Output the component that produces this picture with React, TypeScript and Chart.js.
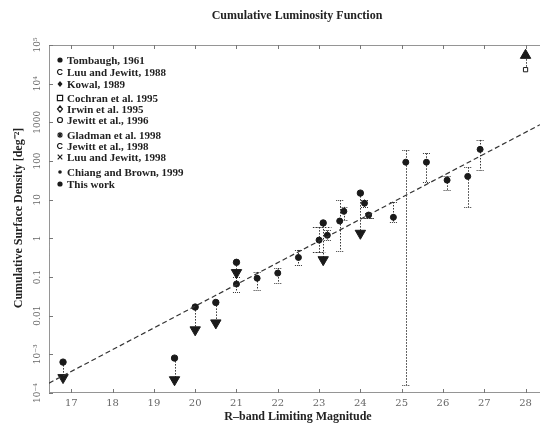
import { useEffect, useRef } from "react";
import { Chart, registerables } from "chart.js";

Chart.register(...registerables);

const chartTitle = "Cumulative Luminosity Function";
const xTitle = "R\u2013band Limiting Magnitude";
const yTitle = "Cumulative Surface Density [deg\u207B\u00B2]";

const xTicks = [17, 18, 19, 20, 21, 22, 23, 24, 25, 26, 27, 28];
const yTicks = [1e-4, 1e-3, 0.01, 0.1, 1, 10, 100, 1000, 1e4, 1e5];
const yTickLabels = ["10\u207B\u2074", "10\u207B\u00B3", "0.01", "0.1", "1", "10", "100", "1000", "10\u2074", "10\u2075"];

const legendLabels = [
  "Tombaugh, 1961",
  "Luu and Jewitt, 1988",
  "Kowal, 1989",
  "Cochran et al. 1995",
  "Irwin et al. 1995",
  "Jewitt et al., 1996",
  "Gladman et al. 1998",
  "Jewitt et al., 1998",
  "Luu and Jewitt, 1998",
  "Chiang and Brown, 1999",
  "This work",
];
const legendMarkers = ["dot", "c", "diamondFill", "square", "diamond", "circle", "star", "c", "cross", "smallDot", "dot"];

// measured points with vertical error bars
const measMag = [21.0, 21.5, 22.0, 22.5, 23.0, 23.2, 23.5, 23.6, 24.1, 24.2, 24.8, 25.1, 25.6, 26.1, 26.6, 26.9];
const measDensity = [0.066, 0.093, 0.126, 0.32, 0.9, 1.2, 2.8, 5.0, 8.1, 4.0, 3.5, 93, 93, 32, 40, 200];
const measHigh = [0.1, 0.135, 0.17, 0.5, 1.95, 1.6, 9.8, 6.5, 10, 4.6, 8.7, 190, 158, 40, 69, 350];
const measLow = [0.041, 0.046, 0.07, 0.2, 0.44, 0.9, 0.47, 3.0, 6.5, 3.4, 2.6, 1.6e-4, 28, 18, 6.4, 57];

// horizontal bars
const hBarFrom = [22.85, 22.85, 24.0];
const hBarTo = [23.3, 23.15, 24.35];
const hBarDensity = [1.95, 0.44, 3.3];

// upper limits (dot with arrow down)
const ulMag = [16.8, 19.5, 20.0, 20.5, 21.0, 23.1, 24.0];
const ulDensity = [6.3e-4, 8e-4, 0.0167, 0.022, 0.24, 2.5, 14.8];
const ulBound = [2.5e-4, 2.2e-4, 4.3e-3, 6.5e-3, 0.13, 0.28, 1.35];

// lower limit (square with arrow up)
const llMag = [28.0];
const llDensity = [23000];
const llBound = [54000];

// fitted power law
const fitMag = [16.46, 28.35];
const fitDensity = [1.8e-4, 870];

const INK = "#1a1a1a";

function drawLegendMarker(ctx: CanvasRenderingContext2D, kind: string, x: number, y: number) {
  ctx.save();
  ctx.fillStyle = INK;
  ctx.strokeStyle = INK;
  ctx.lineWidth = 1.2;
  ctx.setLineDash([]);
  ctx.beginPath();
  if (kind === "dot") {
    ctx.arc(x, y, 2.6, 0, Math.PI * 2);
    ctx.fill();
  } else if (kind === "smallDot") {
    ctx.arc(x, y, 1.8, 0, Math.PI * 2);
    ctx.fill();
  } else if (kind === "c") {
    ctx.arc(x, y, 2.5, 0.5, Math.PI * 2 - 0.5);
    ctx.stroke();
  } else if (kind === "circle") {
    ctx.arc(x, y, 2.5, 0, Math.PI * 2);
    ctx.stroke();
  } else if (kind === "diamondFill") {
    ctx.moveTo(x, y - 3);
    ctx.lineTo(x + 2.5, y);
    ctx.lineTo(x, y + 3);
    ctx.lineTo(x - 2.5, y);
    ctx.closePath();
    ctx.fill();
  } else if (kind === "diamond") {
    ctx.moveTo(x, y - 3);
    ctx.lineTo(x + 2.5, y);
    ctx.lineTo(x, y + 3);
    ctx.lineTo(x - 2.5, y);
    ctx.closePath();
    ctx.stroke();
  } else if (kind === "square") {
    ctx.rect(x - 2.6, y - 2.6, 5.2, 5.2);
    ctx.stroke();
  } else if (kind === "star") {
    for (let i = 0; i < 4; i++) {
      const a = (i * Math.PI) / 4;
      ctx.moveTo(x - 3 * Math.cos(a), y - 3 * Math.sin(a));
      ctx.lineTo(x + 3 * Math.cos(a), y + 3 * Math.sin(a));
    }
    ctx.stroke();
  } else if (kind === "cross") {
    ctx.moveTo(x - 2.3, y - 2.3);
    ctx.lineTo(x + 2.3, y + 2.3);
    ctx.moveTo(x + 2.3, y - 2.3);
    ctx.lineTo(x - 2.3, y + 2.3);
    ctx.stroke();
  }
  ctx.restore();
}

const decorPlugin = {
  id: "decor",
  beforeDatasetsDraw(chart: any) {
    const { ctx, chartArea: a, scales } = chart;
    const xs = scales.x;
    const ys = scales.y;
    ctx.save();
    // frame (dotted)
    ctx.strokeStyle = "#2a2a2a";
    ctx.lineWidth = 1;
    ctx.setLineDash([1, 1]);
    ctx.beginPath();
    ctx.moveTo(a.left + 0.5, a.top + 0.5);
    ctx.lineTo(a.right, a.top + 0.5);
    ctx.moveTo(a.left + 0.5, a.top + 0.5);
    ctx.lineTo(a.left + 0.5, a.bottom - 0.5);
    ctx.lineTo(a.right, a.bottom - 0.5);
    ctx.stroke();
    // inner ticks
    ctx.setLineDash([]);
    ctx.strokeStyle = "#777";
    ctx.beginPath();
    xTicks.forEach((t) => {
      const px = Math.round(xs.getPixelForValue(t)) + 0.5;
      ctx.moveTo(px, a.bottom);
      ctx.lineTo(px, a.bottom - 4);
      ctx.moveTo(px, a.top);
      ctx.lineTo(px, a.top + 4);
    });
    yTicks.forEach((t) => {
      const py = Math.round(ys.getPixelForValue(t)) + 0.5;
      ctx.moveTo(a.left, py);
      ctx.lineTo(a.left + 4, py);
    });
    ctx.stroke();

    // error bars, arrow stems (dotted)
    ctx.strokeStyle = "#333";
    ctx.lineWidth = 1;
    ctx.setLineDash([1.5, 1.5]);
    ctx.beginPath();
    measMag.forEach((m, i) => {
      const px = Math.round(xs.getPixelForValue(m)) + 0.5;
      ctx.moveTo(px, ys.getPixelForValue(measHigh[i]));
      ctx.lineTo(px, ys.getPixelForValue(measLow[i]));
    });
    ulMag.forEach((m, i) => {
      const px = Math.round(xs.getPixelForValue(m)) + 0.5;
      ctx.moveTo(px, ys.getPixelForValue(ulDensity[i]));
      ctx.lineTo(px, ys.getPixelForValue(ulBound[i]));
    });
    llMag.forEach((m, i) => {
      const px = Math.round(xs.getPixelForValue(m)) + 0.5;
      ctx.moveTo(px, ys.getPixelForValue(llDensity[i]));
      ctx.lineTo(px, ys.getPixelForValue(llBound[i]));
    });
    hBarFrom.forEach((f, i) => {
      const py = Math.round(ys.getPixelForValue(hBarDensity[i])) + 0.5;
      ctx.moveTo(xs.getPixelForValue(f), py);
      ctx.lineTo(xs.getPixelForValue(hBarTo[i]), py);
    });
    ctx.stroke();
    // caps
    ctx.setLineDash([1, 1]);
    ctx.beginPath();
    measMag.forEach((m, i) => {
      const px = xs.getPixelForValue(m);
      [measHigh[i], measLow[i]].forEach((v) => {
        const py = Math.round(ys.getPixelForValue(v)) + 0.5;
        ctx.moveTo(px - 3.5, py);
        ctx.lineTo(px + 3.5, py);
      });
    });
    ctx.stroke();
    ctx.restore();
  },
  afterDraw(chart: any) {
    const { ctx, chartArea: a, scales } = chart;
    const xs = scales.x;
    const ys = scales.y;
    ctx.save();
    // title
    ctx.fillStyle = "#222";
    ctx.font = "bold 12px 'Liberation Serif', serif";
    ctx.textAlign = "center";
    ctx.textBaseline = "middle";
    ctx.fillText(chartTitle, 297, 16);
    // x tick labels
    ctx.font = "10px 'DejaVu Serif', serif";
    ctx.fillStyle = "#666";
    xTicks.forEach((t) => {
      ctx.fillText(String(t), xs.getPixelForValue(t), a.bottom + 10);
    });
    // y tick labels rotated
    yTicks.forEach((t, i) => {
      ctx.save();
      ctx.translate(38, ys.getPixelForValue(t));
      ctx.rotate(-Math.PI / 2);
      ctx.font = "9px 'DejaVu Serif', serif";
      ctx.fillText(yTickLabels[i], 0, 0);
      ctx.restore();
    });
    // axis titles
    ctx.fillStyle = "#222";
    ctx.font = "bold 12px 'Liberation Serif', serif";
    ctx.fillText(xTitle, 298, 417);
    ctx.save();
    ctx.translate(19, 218);
    ctx.rotate(-Math.PI / 2);
    ctx.fillText(yTitle, 0, 0);
    ctx.restore();
    // legend
    const rows = [60, 72, 84, 98, 109, 120, 135, 146, 157, 172, 184];
    ctx.textAlign = "left";
    ctx.font = "bold 11px 'Liberation Serif', serif";
    legendLabels.forEach((lab, i) => {
      drawLegendMarker(ctx, legendMarkers[i], 60, rows[i]);
      ctx.fillStyle = "#222";
      ctx.fillText(lab, 67, rows[i] + 1);
    });
    ctx.restore();
  },
};

export default function App() {
  const ref = useRef<HTMLCanvasElement | null>(null);
  useEffect(() => {
    if (!ref.current) return;
    const pts = (xa: number[], ya: number[]) => xa.map((x, i) => ({ x, y: ya[i] }));
    const chart = new Chart(ref.current, {
      type: "scatter",
      data: {
        datasets: [
          {
            type: "line",
            data: pts(fitMag, fitDensity),
            borderColor: "#333",
            borderWidth: 1.2,
            borderDash: [5, 3],
            pointRadius: 0,
            fill: false,
          } as any,
          {
            data: pts(measMag, measDensity),
            pointStyle: "circle",
            pointRadius: 3,
            backgroundColor: INK,
            borderColor: INK,
            borderWidth: 1,
          },
          {
            data: pts(ulMag, ulDensity),
            pointStyle: "circle",
            pointRadius: 3.2,
            backgroundColor: INK,
            borderColor: INK,
            borderWidth: 1,
          },
          {
            data: pts(ulMag, ulBound),
            pointStyle: "triangle",
            rotation: 180,
            pointRadius: 6,
            backgroundColor: INK,
            borderColor: INK,
            borderWidth: 1,
          },
          {
            data: pts(llMag, llDensity),
            pointStyle: "rect",
            pointRadius: 3,
            backgroundColor: "#fff",
            borderColor: INK,
            borderWidth: 1,
          },
          {
            data: pts(llMag, llBound),
            pointStyle: "triangle",
            pointRadius: 6,
            backgroundColor: INK,
            borderColor: INK,
            borderWidth: 1,
          },
        ],
      },
      options: {
        responsive: false,
        animation: false,
        layout: { padding: { left: 49, top: 45, right: 0, bottom: 41 } },
        plugins: { legend: { display: false }, tooltip: { enabled: false }, title: { display: false } },
        scales: {
          x: { type: "linear", min: 16.46, max: 28.35, display: false },
          y: { type: "logarithmic", min: 1e-4, max: 1e5, display: false },
        },
      },
      plugins: [decorPlugin],
    });
    return () => chart.destroy();
  }, []);
  return (
    <div style={{ position: "fixed", left: 0, top: 0, width: 547, height: 434, background: "#fff" }}>
      <canvas ref={ref} width={547} height={434} style={{ display: "block" }} />
    </div>
  );
}
